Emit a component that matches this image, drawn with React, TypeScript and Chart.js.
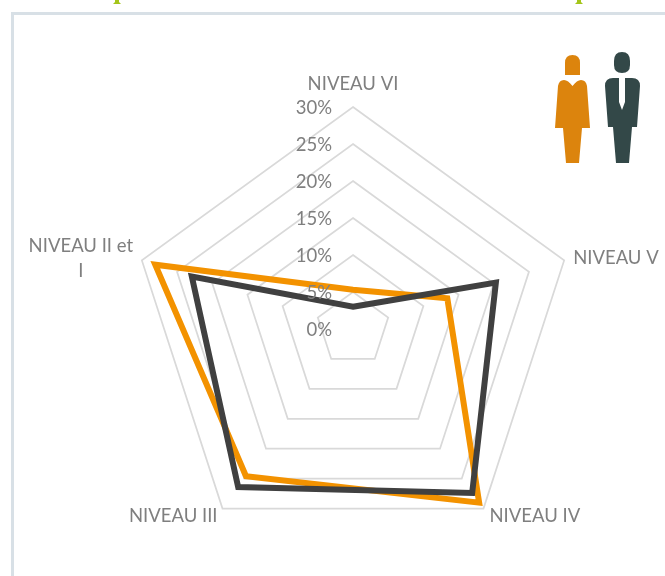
import React, { useEffect, useRef } from "react";
import { Chart, registerables } from "chart.js";

Chart.register(...registerables);

const categories: string[] = ["NIVEAU VI", "NIVEAU V", "NIVEAU IV", "NIVEAU III", "NIVEAU II et I"];
const femmes = [5.3, 13.4, 29, 24.6, 28.1];
const hommes = [3, 20.3, 27.4, 26.4, 22.9];
const tickStep = 5;
const maxValue = 30;

const FONT = "Lato, 'Open Sans', sans-serif";
const GREY = "#7f7f7f";
const SIZE = 18.5;

const labelPlugin = {
  id: "radarLabels",
  afterDatasetsDraw(chart: any) {
    const s = chart.scales.r;
    const { ctx } = chart;
    ctx.save();
    ctx.font = `${SIZE}px ${FONT}`;
    ctx.fillStyle = GREY;
    ctx.textBaseline = "middle";
    ctx.textAlign = "right";
    s.ticks.forEach((t: any) => {
      const y = s.yCenter - s.getDistanceFromCenterForValue(t.value);
      ctx.fillText(`${t.value}%`, s.xCenter - 21, y + 1);
    });
    const r = s.getDistanceFromCenterForValue(maxValue);
    const place = [
      { align: "center", dx: 0, dy: -23 },
      { align: "left", dx: 9, dy: -2 },
      { align: "left", dx: 6, dy: 7 },
      { align: "right", dx: -5, dy: 7 },
      { align: "center", dx: -61, dy: -14 },
    ];
    categories.forEach((name, i) => {
      const p = s.getPointPosition(i, r);
      const { align, dx, dy } = place[i];
      ctx.textAlign = align;
      if (name.endsWith(" et I")) {
        ctx.fillText(name.slice(0, -2), p.x + dx, p.y + dy);
        ctx.fillText("I", p.x + dx, p.y + dy + 25);
      } else {
        ctx.fillText(name, p.x + dx, p.y + dy);
      }
    });
    ctx.restore();
  },
};

export default function App() {
  const ref = useRef<HTMLCanvasElement>(null);
  useEffect(() => {
    document.body.style.margin = "0";
    const chart = new Chart(ref.current!, {
      type: "radar",
      data: {
        labels: categories,
        datasets: [
          { label: "Hommes", data: hommes, borderColor: "#404040", borderWidth: 6, pointRadius: 0, fill: false, borderJoinStyle: "miter", order: 1 },
          { label: "Femmes", data: femmes, borderColor: "#F39200", borderWidth: 6, pointRadius: 0, fill: false, borderJoinStyle: "miter", order: 2 },
        ],
      },
      options: {
        responsive: false,
        animation: false,
        layout: { padding: { left: 131, right: 90, top: 107, bottom: 25 } },
        plugins: { legend: { display: false }, tooltip: { enabled: false } },
        scales: {
          r: {
            min: 0,
            max: maxValue,
            ticks: { stepSize: tickStep, display: false },
            grid: { color: "#d9d9d9", lineWidth: 1.75 },
            angleLines: { display: false },
            pointLabels: { display: false },
          },
        },
      },
      plugins: [labelPlugin],
    });
    return () => chart.destroy();
  }, []);
  return (
    <div style={{ position: "relative", width: 665, height: 576, overflow: "hidden", background: "#fff" }}>
      <canvas ref={ref} width={665} height={576} style={{ position: "absolute", left: 0, top: 0 }} />
      <div style={{ position: "absolute", left: 11, top: 12, right: -5, bottom: -5, border: "3px solid #d8e0e6", pointerEvents: "none" }} />
      <svg width={665} height={576} style={{ position: "absolute", left: 0, top: 0, pointerEvents: "none" }}>
        <path d="M113 4h8l-2-2v-2h-4v2z" fill="#a4c51a" />
        <path d="M575 4h8l-2-2v-2h-4v2z" fill="#a4c51a" />
        <path d="M565 75V63Q565 55 572.500 55Q580 55 580 63V75Z" fill="#dc840d" />
        <path d="M558 86Q559 80 564 80Q568 80 572.500 86Q577 80 581 80Q586 80 587 86L590 128L582 128L579 163L566 163L563 128L555 128Z" fill="#dc840d" />
        <path d="M614 61Q614 52 622 52Q630 52 630 61V65Q630 73 622 73Q614 73 614 65Z" fill="#334848" />
        <path d="M605 86Q605 78 613 78L619 78L619 102L622 110L625 102L625 78L632 78Q640 78 640 86L637 127L632 127L629 163L616 163L613 127L608 127Z" fill="#334848" />
      </svg>
    </div>
  );
}
